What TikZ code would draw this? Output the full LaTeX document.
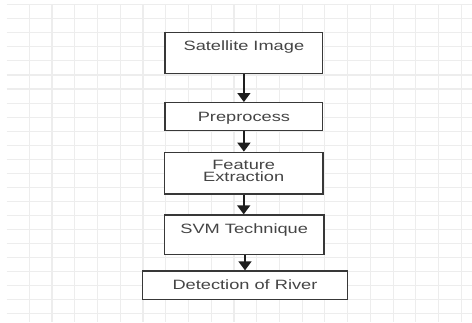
\documentclass[tikz,border=0pt]{standalone}
\usepackage{fontspec}
\usetikzlibrary{arrows.meta}
% Arial-metric sans, widened slightly for the step labels
\newfontfamily\labelfont[FakeStretch=1.35]{Liberation Sans}
\definecolor{gridgray}{HTML}{EDEDED}
\definecolor{boxline}{HTML}{383838}
\definecolor{labelgray}{HTML}{454545}
\definecolor{arrowdark}{HTML}{1E1E1E}

\begin{document}
\begin{tikzpicture}[x=1pt,y=-1pt,
  stepbox/.style={draw=boxline, line width=1.4pt, fill=white, inner sep=0pt},
  steptext/.style={font=\labelfont\fontsize{13.5}{11.5}\selectfont, text=labelgray,
                   inner sep=0pt, align=center},
  flow/.style={draw=arrowdark, line width=1.6pt, -{Triangle[width=13pt,length=9pt]}}]

% page and background grid
\fill[white] (0,0) rectangle (472,322);
\useasboundingbox (0,0) rectangle (472,322);
\foreach \k in {0,...,22}
  \draw[gridgray, line width=1.1pt] (6.6,{4.7+14.05*\k}) -- (472,{4.7+14.05*\k});
\foreach \k in {0,...,19}
  \draw[gridgray, line width=1.1pt] ({29.3+22.74*\k},4) -- ({29.3+22.74*\k},322);

% process steps
\node[stepbox, minimum width=157.7pt, minimum height=40.6pt] (sat) at (243.9,53) {};
\node[steptext, anchor=base] (satT) at (243.9,50.8) {Satellite Image};

\node[stepbox, minimum width=157.7pt, minimum height=28pt] (pre) at (243.9,116.7) {};
\node[steptext, anchor=base] (preT) at (243.9,121) {Preprocess};

\node[stepbox, minimum width=158.7pt, minimum height=41.7pt] (feat) at (243.7,173.2) {};
\node[steptext] (featT) at (243.7,170.7) {Feature\\Extraction};

\node[stepbox, minimum width=159.7pt, minimum height=39.3pt] (svm) at (244.2,234.7) {};
\node[steptext, anchor=base] (svmT) at (244.2,233.3) {SVM Technique};

\node[stepbox, minimum width=204.6pt, minimum height=28.3pt] (det) at (245,285.2) {};
\node[steptext, anchor=base] (detT) at (245,289) {Detection of River};

% connectors
\draw[flow] (sat.south) -- (sat.south |- pre.north);
\draw[flow] (pre.south) -- (pre.south |- feat.north);
\draw[flow] (feat.south) -- (feat.south |- svm.north);
\draw[flow] (det.north |- svm.south) -- (det.north);
\end{tikzpicture}
\end{document}
